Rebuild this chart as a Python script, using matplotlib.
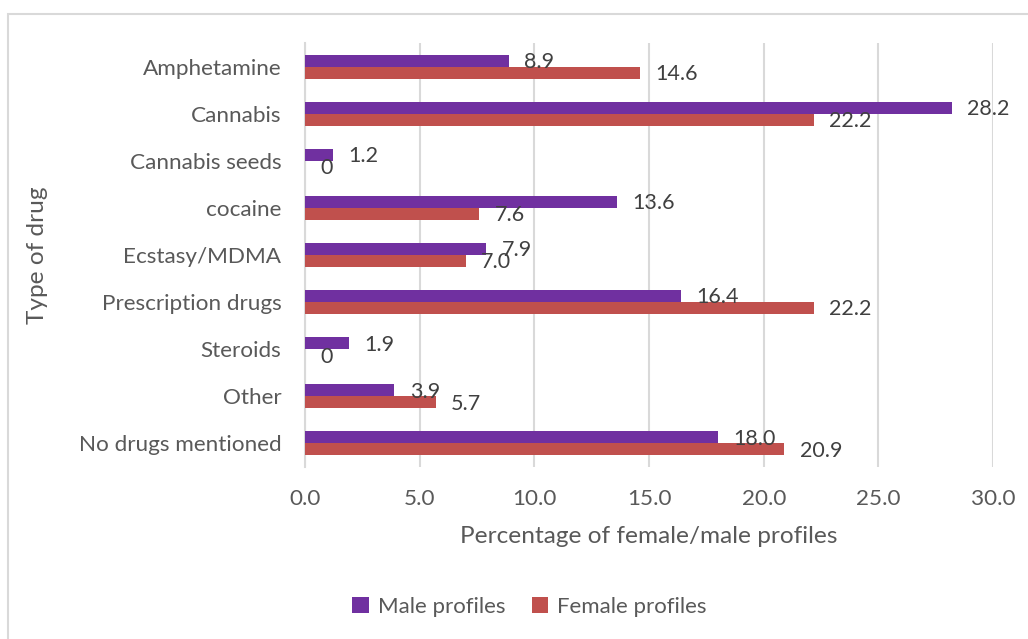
import matplotlib
matplotlib.use("Agg")
import matplotlib.pyplot as plt
import numpy as np
from matplotlib.patches import Rectangle

plt.rcParams['font.family'] = ['Lato', 'DejaVu Sans']

# data
drugs = ["Amphetamine", "Cannabis", "Cannabis seeds", "cocaine", "Ecstasy/MDMA",
         "Prescription drugs", "Steroids", "Other", "No drugs mentioned"]
male = [8.9, 28.2, 1.2, 13.6, 7.9, 16.4, 1.9, 3.9, 18.0]
female = [14.6, 22.2, 0, 7.6, 7.0, 22.2, 0, 5.7, 20.9]
male_labels = ["8.9", "28.2", "1.2", "13.6", "7.9", "16.4", "1.9", "3.9", "18.0"]
female_labels = ["14.6", "22.2", "0", "7.6", "7.0", "22.2", "0", "5.7", "20.9"]
xticks = [0, 5, 10, 15, 20, 25, 30]

purple = "#7030A0"
red = "#C0504D"
grid_col = "#D9D9D9"
txt = "#595959"
lbl = "#404040"

fig = plt.figure(figsize=(10.28, 6.39), dpi=100)
ax = fig.add_axes([0.2967, 0.2692, 0.6693, 0.6635])

# outer chart frame (clipped by figure edges like the reference)
fig.patches.append(Rectangle((8 / 1028, -0.1), 1.2, 1 - 14 / 639 + 0.1,
                             transform=fig.transFigure, fill=False,
                             edgecolor="#D9D9D9", linewidth=1.5))

y = np.arange(len(drugs))
h = 0.255
mb = ax.barh(y - h / 2, male, height=h, color=purple, label="Male profiles", zorder=3)
fb = ax.barh(y + h / 2, female, height=h, color=red, label="Female profiles", zorder=3)

for bars, labs in ((mb, male_labels), (fb, female_labels)):
    for b, s in zip(bars, labs):
        ax.annotate(s, (b.get_width(), b.get_y() + b.get_height() / 2),
                    xytext=(11, -1), textcoords="offset points",
                    ha="left", va="center", fontsize=15.5, color=lbl, zorder=4)

ax.set_xlim(0, 30)
ax.set_ylim(len(drugs) - 0.5, -0.5)
ax.set_xticks(xticks)
ax.set_xticklabels([f"{v:.1f}" for v in xticks])
ax.set_yticks(y)
ax.set_yticklabels(drugs)
ax.tick_params(axis="both", length=0, labelsize=16.2, colors=txt)
ax.tick_params(axis="x", pad=16)
ax.tick_params(axis="y", pad=17)

ax.grid(axis="x", color=grid_col, linewidth=1.5, zorder=0)
for s in ["top", "right", "bottom"]:
    ax.spines[s].set_visible(False)
ax.spines["left"].set_color(grid_col)
ax.spines["left"].set_linewidth(1.5)

ax.set_xlabel("Percentage of female/male profiles", fontsize=17.6, color=txt, labelpad=12)
ax.set_ylabel("Type of drug", fontsize=17.6, color=txt, labelpad=22)

fig.legend(handles=[mb, fb], loc="center", bbox_to_anchor=(0.515, 0.05), ncol=2,
           frameon=False, fontsize=16, handlelength=0.75, handleheight=0.75,
           handletextpad=0.4, columnspacing=1.2, labelcolor=txt)

fig.savefig("out.png", dpi=100)
